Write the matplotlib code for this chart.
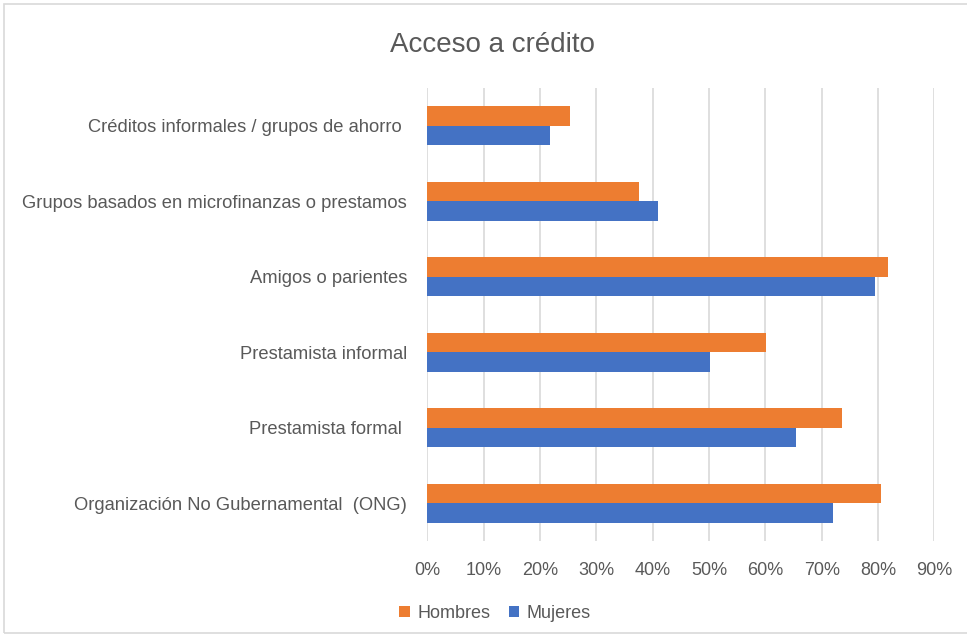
import numpy as np
import matplotlib.pyplot as plt
from matplotlib.patches import Rectangle
from matplotlib.ticker import PercentFormatter

# data (top to bottom)
categorias = [
    "Créditos informales / grupos de ahorro ",
    "Grupos basados en microfinanzas o prestamos",
    "Amigos o parientes",
    "Prestamista informal",
    "Prestamista formal ",
    "Organización No Gubernamental  (ONG)",
]
hombres = [25.4, 37.5, 81.7, 60.2, 73.7, 80.6]
mujeres = [21.7, 40.9, 79.4, 50.1, 65.4, 72.1]
xticks = np.arange(0, 100, 10)

plt.rcParams['font.family'] = ['Liberation Sans', 'DejaVu Sans']
text_color = '#595959'

fig = plt.figure(figsize=(9.67, 6.41), dpi=100)
ax = fig.add_axes([0.4419, 0.156, 0.5243, 0.7067])

y = np.arange(len(categorias))[::-1]
h = 0.26
ax.barh(y + h / 2, hombres, height=h, color='#ED7D31', label='Hombres', zorder=3)
ax.barh(y - h / 2, mujeres, height=h, color='#4472C4', label='Mujeres', zorder=3)

ax.set_xlim(0, 90)
ax.set_ylim(-0.5, len(categorias) - 0.5)
ax.set_xticks(xticks)
ax.xaxis.set_major_formatter(PercentFormatter(decimals=0))
ax.set_yticks(y)
ax.set_yticklabels(categorias)
ax.grid(axis='x', color='#D9D9D9', linewidth=1.2, zorder=0)
for s in ax.spines.values():
    s.set_visible(False)
ax.tick_params(axis='y', length=0, pad=14.5, labelsize=13.2, labelcolor=text_color)
ax.tick_params(axis='x', length=0, pad=15, labelsize=13, labelcolor=text_color)

fig.text(0.509, 0.93, "Acceso a crédito", ha='center', va='center',
         fontsize=20, color=text_color)

leg = fig.legend(loc='center', bbox_to_anchor=(0.512, 0.043), ncol=2, frameon=False,
                 fontsize=13, handlelength=0.6, handleheight=0.6,
                 handletextpad=0.4, columnspacing=1.0)
for t in leg.get_texts():
    t.set_color(text_color)

fig.patches.append(Rectangle((4 / 967, 1 - 633 / 641), 1.0, (633 - 4) / 641,
                             transform=fig.transFigure, fill=False,
                             edgecolor='#D9D9D9', linewidth=1.2))

fig.savefig('out.png', dpi=100)
